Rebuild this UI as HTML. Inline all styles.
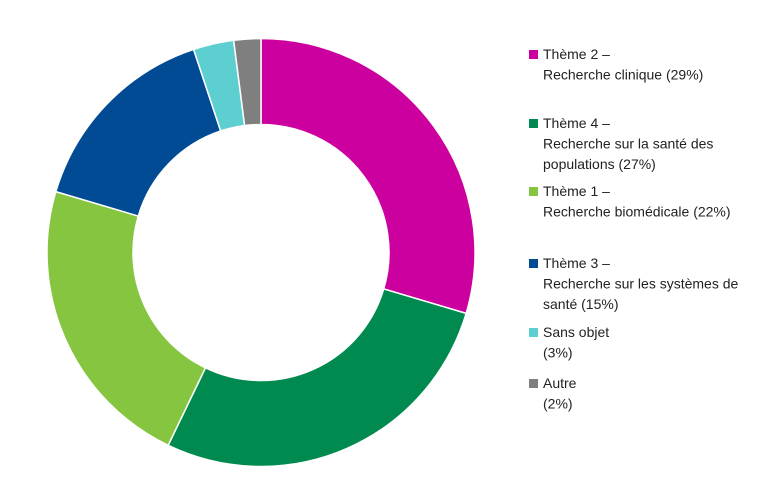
<!DOCTYPE html>
<html><head><meta charset="utf-8"><style>
body{margin:0;background:#fff;font-family:"Liberation Sans",sans-serif;}
svg text{font-family:"Liberation Sans",sans-serif;font-size:14px;fill:#222;}
</style></head><body>
<svg id="chart" width="764" height="492"></svg>
<script>
const categories=["Thème 2 – Recherche clinique","Thème 4 – Recherche sur la santé des populations","Thème 1 – Recherche biomédicale","Thème 3 – Recherche sur les systèmes de santé","Sans objet","Autre"];
const values=[29,27,22,15,3,2];
const legendLines=[["Thème 2 –","Recherche clinique (29%)"],["Thème 4 –","Recherche sur la santé des","populations (27%)"],["Thème 1 –","Recherche biomédicale (22%)"],["Thème 3 –","Recherche sur les systèmes de","santé (15%)"],["Sans objet","(3%)"],["Autre","(2%)"]];
const colors=["#cc009e","#008a4f","#86c540","#004b93","#5ecfd0","#7f7f7f"];
const legendY=[59,128,196,268,337,388];
const svg=document.getElementById('chart');
const NS="http://www.w3.org/2000/svg";
const cx=261,cy=252.5,R=214,r=128;
const total=values.reduce((a,b)=>a+b,0);
function pt(a,rad){return [cx+rad*Math.sin(a),cy-rad*Math.cos(a)];}
let acc=0;
values.forEach((v,i)=>{
  const a0=acc/total*2*Math.PI;acc+=v;const a1=acc/total*2*Math.PI;
  const large=(a1-a0)>Math.PI?1:0;
  const p0=pt(a0,R),p1=pt(a1,R),q1=pt(a1,r),q0=pt(a0,r);
  const p=document.createElementNS(NS,'path');
  p.setAttribute('d',`M${p0}A${R},${R} 0 ${large} 1 ${p1}L${q1}A${r},${r} 0 ${large} 0 ${q0}Z`);
  p.setAttribute('fill',colors[i]);p.setAttribute('stroke','#fff');p.setAttribute('stroke-width','1.5');
  
  
  svg.appendChild(p);
});
legendLines.forEach((lines,i)=>{
  const g=document.createElementNS(NS,'g');
  
  
  const s=document.createElementNS(NS,'rect');
  s.setAttribute('x',529);s.setAttribute('y',legendY[i]-9);s.setAttribute('width',9);s.setAttribute('height',9);s.setAttribute('fill',colors[i]);
  
  
  g.appendChild(s);
  lines.forEach((l,j)=>{
    const t=document.createElementNS(NS,'text');
    t.setAttribute('x',543);t.setAttribute('y',legendY[i]+j*20.5);t.textContent=l;
    
    
    g.appendChild(t);
  });
  svg.appendChild(g);
});
</script>
</body></html>
